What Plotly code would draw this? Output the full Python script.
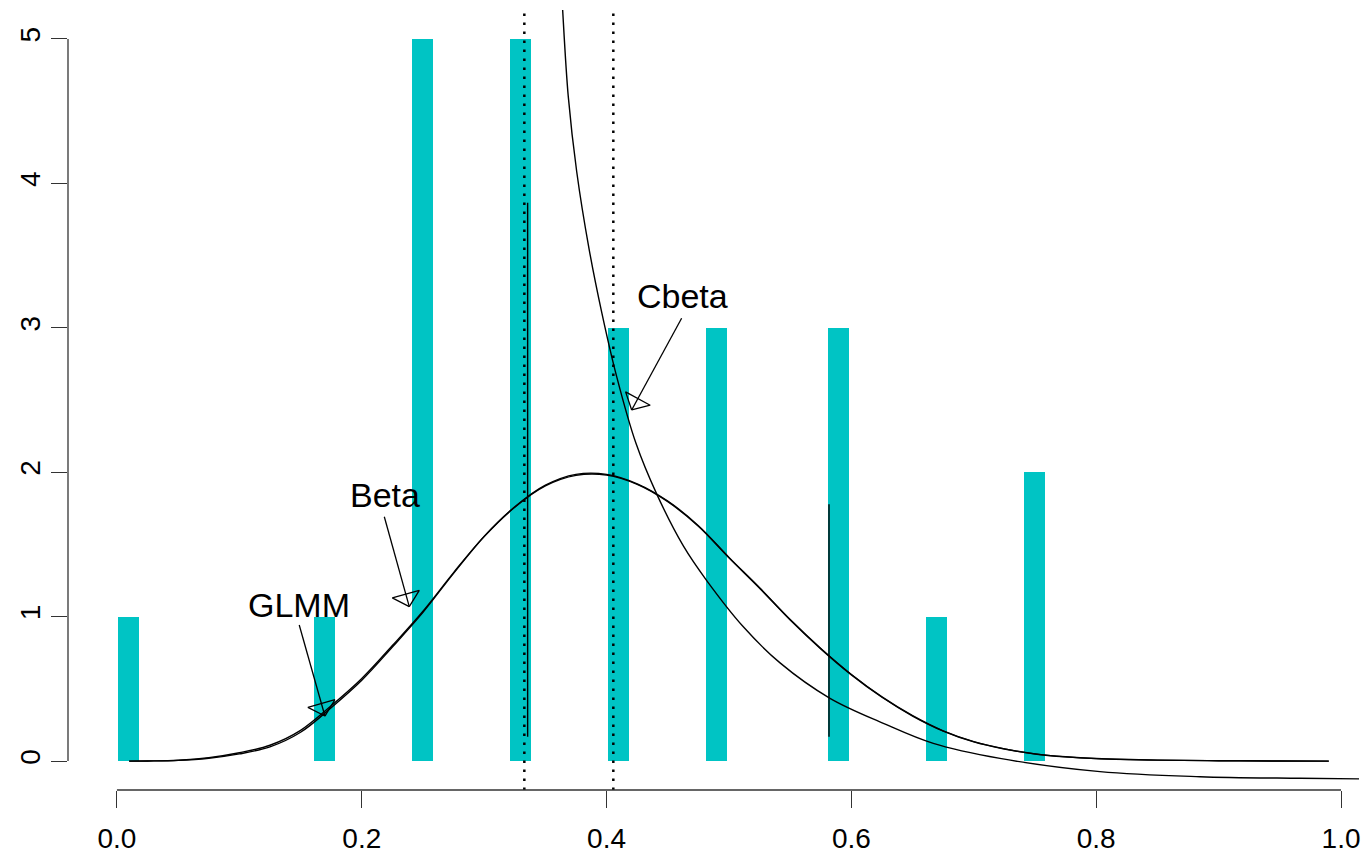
import math
import plotly.graph_objects as go

# ---------------- data ----------------
bar_x = [0.0096, 0.1695, 0.2496, 0.3297, 0.4097, 0.4898, 0.5895, 0.6695, 0.7496]
bar_h = [1, 1, 5, 5, 3, 3, 3, 1, 2]

beta_x = [0.01, 0.025, 0.05, 0.075, 0.10, 0.125, 0.15, 0.175, 0.20, 0.225, 0.25, 0.275,
          0.30, 0.325, 0.35, 0.375, 0.40, 0.425, 0.45, 0.475, 0.50, 0.525, 0.55, 0.575,
          0.60, 0.625, 0.65, 0.675, 0.70, 0.725, 0.75, 0.775, 0.80, 0.85, 0.90, 0.95, 0.99]
beta_y = [0.0, 0.001, 0.005, 0.02, 0.05, 0.099, 0.20, 0.37, 0.56, 0.79, 1.03, 1.30,
          1.555, 1.76, 1.91, 1.985, 1.985, 1.92, 1.80, 1.63, 1.41, 1.20, 0.98, 0.78,
          0.60, 0.445, 0.315, 0.21, 0.135, 0.085, 0.05, 0.03, 0.018, 0.007, 0.003, 0.001, 0.0]
glmm_y = [0.0, 0.001, 0.006, 0.024, 0.058, 0.110, 0.213, 0.383, 0.572, 0.80, 1.038, 1.305,
          1.556, 1.758, 1.905, 1.978, 1.980, 1.916, 1.796, 1.626, 1.407, 1.197, 0.977, 0.777,
          0.597, 0.442, 0.312, 0.208, 0.133, 0.084, 0.049, 0.029, 0.017, 0.007, 0.003, 0.001, 0.0]

cbeta_x = [0.3632, 0.3641, 0.3687, 0.3756, 0.3856, 0.3962, 0.4083, 0.4240, 0.4409, 0.4627,
           0.4818, 0.5117, 0.5417, 0.5825, 0.6261, 0.6669, 0.7214, 0.8031, 0.8848, 0.9665, 1.0147]
cbeta_y = [5.34, 5.20, 4.60, 4.08, 3.55, 3.10, 2.66, 2.20, 1.85, 1.49,
           1.25, 0.93, 0.68, 0.435, 0.262, 0.123, 0.019, -0.073, -0.108, -0.119, -0.123]

vline_dotted = [0.3328, 0.4055]
seg_x = [0.3355, 0.5817]
seg_lo = [0.169, 0.169]
seg_hi = [3.866, 1.778]

labels = ["Cbeta", "Beta", "GLMM"]
label_x = [0.462, 0.2187, 0.1488]
label_y = [3.217, 1.844, 1.081]
tail_x = [0.4613, 0.2184, 0.1489]
tail_y = [3.066, 1.692, 0.942]
tip_x = [0.4205, 0.2388, 0.1699]
tip_y = [2.431, 1.069, 0.312]

x_ticks = [0.0, 0.2, 0.4, 0.6, 0.8, 1.0]
x_ticktext = ["0.0", "0.2", "0.4", "0.6", "0.8", "1.0"]
y_ticks = [0, 1, 2, 3, 4, 5]
y_ticktext = ["0", "1", "2", "3", "4", "5"]

# ---------------- layout constants ----------------
W, H = 1366, 855
ML, MR, MT, MB = 68, 0, 10, 65
XR = [-0.04, 1.0204]
YR = [-0.2, 5.2]
sx = (W - ML - MR) / (XR[1] - XR[0])
sy = (H - MT - MB) / (YR[1] - YR[0])

FONT = "Liberation Sans, Arial, Helvetica, sans-serif"
TEAL = "#00C4C4"
AX = "#333333"

fig = go.Figure()

fig.add_trace(go.Bar(x=bar_x, y=bar_h, width=0.0172, marker=dict(color=TEAL, line=dict(width=0)),
                     hoverinfo="skip"))

for xs, ys in [(beta_x, beta_y), (beta_x, glmm_y), (cbeta_x, cbeta_y)]:
    fig.add_trace(go.Scatter(x=xs, y=ys, mode="lines",
                             line=dict(color="black", width=1.4, shape="spline", smoothing=1.0),
                             hoverinfo="skip"))

for i in range(len(seg_x)):
    fig.add_trace(go.Scatter(x=[seg_x[i], seg_x[i]], y=[seg_lo[i], seg_hi[i]], mode="lines",
                             line=dict(color="black", width=1.4), hoverinfo="skip"))

# arrows with open triangular heads
HEAD_LEN, HEAD_HALF = 13.0, 14.0
for i in range(len(labels)):
    fig.add_trace(go.Scatter(x=[tail_x[i], tip_x[i]], y=[tail_y[i], tip_y[i]], mode="lines",
                             line=dict(color="black", width=1.3), hoverinfo="skip"))
    dxp = (tip_x[i] - tail_x[i]) * sx
    dyp = (tip_y[i] - tail_y[i]) * sy
    L = math.hypot(dxp, dyp)
    ux, uy = dxp / L, dyp / L
    nx, ny = -uy, ux
    bx = tip_x[i] - ux * HEAD_LEN / sx
    by = tip_y[i] - uy * HEAD_LEN / sy
    tri_x = [tip_x[i], bx + nx * HEAD_HALF / sx, bx - nx * HEAD_HALF / sx, tip_x[i]]
    tri_y = [tip_y[i], by + ny * HEAD_HALF / sy, by - ny * HEAD_HALF / sy, tip_y[i]]
    fig.add_trace(go.Scatter(x=tri_x, y=tri_y, mode="lines",
                             line=dict(color="black", width=1.3), hoverinfo="skip"))
    fig.add_annotation(x=label_x[i], y=label_y[i], text=labels[i], showarrow=False,
                       xanchor="center", yanchor="middle",
                       font=dict(family=FONT, size=34, color="black"))

shapes = []
for v in vline_dotted:
    shapes.append(dict(type="line", xref="x", yref="paper", x0=v, x1=v, y0=0, y1=1,
                       line=dict(color="black", width=2.5, dash="2.5px,6.5px")))
shapes.append(dict(type="line", xref="x", yref="paper", x0=x_ticks[0], x1=x_ticks[-1], y0=0, y1=0,
                   line=dict(color=AX, width=1.3)))
shapes.append(dict(type="line", xref="paper", yref="y", x0=0, x1=0, y0=y_ticks[0], y1=y_ticks[-1],
                   line=dict(color=AX, width=1.3)))

fig.update_layout(
    width=W, height=H, margin=dict(l=ML, r=MR, t=MT, b=MB),
    paper_bgcolor="white", plot_bgcolor="white", showlegend=False,
    shapes=shapes, bargap=0,
    font=dict(family=FONT, size=28, color="black"),
    xaxis=dict(range=XR, tickvals=x_ticks, ticktext=x_ticktext, ticks="outside", ticklen=17,
               tickwidth=1.3, tickcolor=AX, showgrid=False, zeroline=False, showline=False,
               ticklabelstandoff=6,
               tickfont=dict(family=FONT, size=28, color="black")),
    yaxis=dict(range=YR, tickvals=y_ticks, ticktext=y_ticktext, ticks="outside", ticklen=16,
               tickwidth=1.3, tickcolor=AX, showgrid=False, zeroline=False, showline=False,
               tickangle=-90, tickfont=dict(family=FONT, size=28, color="black")),
)

fig.write_html("out.html")
